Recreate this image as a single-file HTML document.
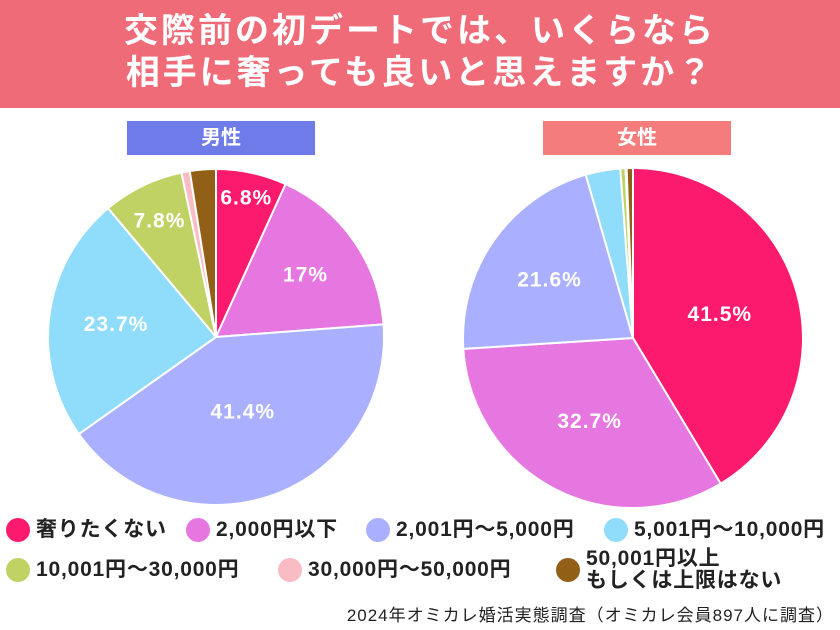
<!DOCTYPE html>
<html><head><meta charset="utf-8"><style>
body{margin:0;width:840px;height:630px;background:#fff;font-family:"Liberation Sans","Noto Sans CJK JP",sans-serif;overflow:hidden;position:relative}
#banner{position:absolute;left:0;top:0;width:840px;height:108px;background:#f06b78;color:#fff;font-weight:bold;font-size:34px;text-align:center;line-height:42px;padding-top:10px;box-sizing:border-box;letter-spacing:3px}
.tag{position:absolute;top:121px;width:188px;height:34px;color:#fff;font-weight:bold;font-size:20px;text-align:center;line-height:34px}
.leg{position:absolute;font-size:21px;font-weight:bold;color:#222;display:flex;align-items:center;line-height:22px;white-space:nowrap;letter-spacing:0.8px}
.dot{width:24px;height:24px;border-radius:50%;margin-right:6px;flex:none}
#foot{position:absolute;right:6px;top:601px;font-size:17px;color:#222;white-space:nowrap;letter-spacing:1px}
</style></head><body>
<div id="banner">交際前の初デートでは、いくらなら<br>相手に奢っても良いと思えますか？</div>
<div class="tag" style="left:127px;background:#6e7be8">男性</div>
<div class="tag" style="left:543px;background:#f47c7c">女性</div>
<svg id="pies" width="840" height="630" style="position:absolute;left:0;top:0"></svg>
<div class="leg" style="left:6px;top:518px"><span class="dot" style="background:#fb1a6e"></span>奢りたくない</div>
<div class="leg" style="left:186px;top:518px"><span class="dot" style="background:#e676e0"></span>2,000円以下</div>
<div class="leg" style="left:366px;top:518px"><span class="dot" style="background:#aab0ff"></span>2,001円〜5,000円</div>
<div class="leg" style="left:604px;top:518px"><span class="dot" style="background:#90dcfb"></span>5,001円〜10,000円</div>
<div class="leg" style="left:6px;top:558px"><span class="dot" style="background:#c0d264"></span>10,001円〜30,000円</div>
<div class="leg" style="left:278px;top:558px"><span class="dot" style="background:#f9bcc4"></span>30,000円〜50,000円</div>
<div class="leg" style="left:556px;top:548px"><span class="dot" style="background:#925f16"></span>50,001円以上<br>もしくは上限はない</div>
<div id="foot">2024年オミカレ婚活実態調査（オミカレ会員897人に調査）</div>
<script>
const categories=["奢りたくない","2,000円以下","2,001円〜5,000円","5,001円〜10,000円","10,001円〜30,000円","30,000円〜50,000円","50,001円以上"];
const maleValues=[6.8,17,41.4,23.7,7.8,0.8,2.5];
const femaleValues=[41.5,32.7,21.6,3.3,0.5,0.1,0.6];
const maleLabels=["6.8%","17%","41.4%","23.7%","7.8%","",""];
const femaleLabels=["41.5%","32.7%","21.6%","","","",""];
const colors=["#fb1a6e","#e676e0","#aab0ff","#90dcfb","#c0d264","#f9bcc4","#925f16"];
const svg=document.getElementById('pies');
const NS="http://www.w3.org/2000/svg";
function pie(vals,labels,cx,cy,r,lr,name){
  const tot=vals.reduce((a,b)=>a+b,0);let a0=0;
  vals.forEach((v,i)=>{
    const a1=a0+v/tot*2*Math.PI;
    const p=(a)=>[cx+r*Math.sin(a),cy-r*Math.cos(a)];
    const [x0,y0]=p(a0),[x1,y1]=p(a1);
    const path=document.createElementNS(NS,'path');
    path.setAttribute('d',`M${cx},${cy}L${x0},${y0}A${r},${r} 0 ${a1-a0>Math.PI?1:0} 1 ${x1},${y1}Z`);
    path.setAttribute('fill',colors[i]);path.setAttribute('stroke','#fff');path.setAttribute('stroke-width','2');
    
    
    svg.appendChild(path);
    if(labels[i]){
      const m=(a0+a1)/2,rr=r*lr[i];
      const t=document.createElementNS(NS,'text');
      t.setAttribute('x',cx+rr*Math.sin(m));t.setAttribute('y',cy-rr*Math.cos(m)+7);
      t.setAttribute('text-anchor','middle');t.setAttribute('fill','#fff');
      t.setAttribute('font-size','21');t.setAttribute('font-weight','bold');
      t.setAttribute('letter-spacing','1');
      t.setAttribute('font-family','Liberation Sans, sans-serif');
      t.textContent=labels[i];
      
      
      svg.appendChild(t);
    }
    a0=a1;
  });
}
pie(maleValues,maleLabels,216,337,168,[0.85,0.65,0.47,0.6,0.77,0,0],'male');
pie(femaleValues,femaleLabels,633,338,170,[0.53,0.55,0.6,0,0,0,0],'female');
</script>
</body></html>
